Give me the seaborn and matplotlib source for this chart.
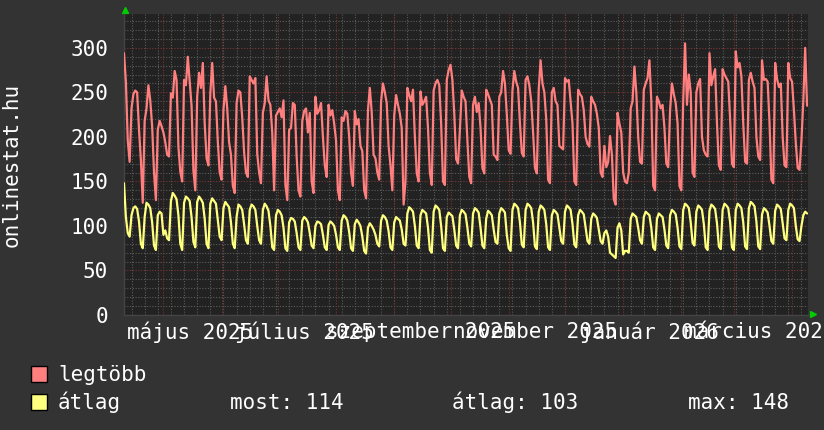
import pandas as pd
import matplotlib
matplotlib.use('Agg')
import matplotlib.pyplot as plt
import matplotlib.dates as mdates
from matplotlib.patches import Rectangle
import seaborn as sns

# ===============================
# Data (daily values)
# ===============================
start_date = '2025-04-10'

# legtöbb (daily maximum), one row per week (Mon..Sun), first row starts Thursday
legtobb = [
    294, 262, 196, 172,
    232, 248, 252, 250, 208, 174, 126,
    218, 232, 258, 241, 212, 160, 129,
    208, 218, 212, 205, 194, 180, 178,
    249, 244, 274, 264, 189, 161, 150,
    264, 258, 290, 262, 235, 162, 140,
    245, 272, 255, 283, 215, 176, 168,
    249, 283, 244, 240, 194, 160, 152,
    230, 257, 232, 194, 180, 145, 137,
    238, 252, 250, 222, 183, 160, 155,
    268, 264, 260, 266, 181, 160, 148,
    227, 238, 268, 241, 236, 205, 140,
    224, 228, 232, 222, 241, 146, 129,
    208, 210, 238, 236, 178, 140, 133,
    218, 229, 232, 205, 227, 150, 137,
    245, 226, 230, 238, 200, 168, 155,
    236, 224, 230, 215, 196, 140, 129,
    222, 218, 229, 226, 200, 160, 145,
    229, 214, 220, 190, 184, 140, 131,
    230, 255, 228, 180, 176, 160, 152,
    240, 260, 250, 238, 190, 168, 140,
    224, 247, 236, 226, 210, 124, 150,
    255, 247, 240, 253, 200, 159, 150,
    251, 236, 240, 245, 210, 160, 146,
    252, 260, 264, 258, 215, 150, 146,
    264, 275, 281, 264, 226, 175, 170,
    208, 252, 245, 240, 196, 155, 148,
    236, 245, 228, 238, 210, 165, 159,
    253, 248, 242, 236, 180, 178, 174,
    245, 250, 274, 260, 225, 185, 181,
    252, 274, 262, 255, 215, 182, 178,
    264, 268, 258, 240, 205, 165, 159,
    253, 286, 260, 250, 220, 152, 148,
    250, 255, 240, 236, 190, 188, 186,
    266, 262, 264, 240, 215, 150, 146,
    253, 248, 245, 230, 200, 192, 189,
    245, 240, 236, 226, 210, 160, 155,
    190, 166, 172, 201, 180, 130, 124,
    227, 215, 205, 160, 150, 148, 160,
    232, 240, 279, 250, 200, 172, 170,
    253, 260, 266, 286, 240, 145, 140,
    245, 240, 232, 236, 210, 170, 166,
    230, 260, 248, 238, 215, 145, 140,
    240, 305, 236, 270, 250, 160, 155,
    250, 260, 265, 200, 185, 180, 178,
    294, 258, 268, 276, 215, 168, 163,
    276, 270, 266, 262, 220, 170, 166,
    296, 278, 283, 268, 215, 172, 170,
    264, 272, 262, 255, 200, 178, 174,
    286, 264, 265, 262, 215, 152, 148,
    283, 265, 256, 260, 200, 168, 166,
    283, 266, 262, 230, 193, 165, 163,
    196, 240, 300, 235,
]

# átlag (daily average)
atlag = [
    148, 110, 92, 88,
    112, 120, 122, 119, 105, 80, 75,
    110, 126, 124, 120, 104, 78, 73,
    112, 116, 114, 90, 95, 86, 84,
    128, 137, 134, 130, 112, 80, 73,
    126, 133, 131, 128, 110, 82, 76,
    127, 133, 130, 126, 108, 80, 75,
    125, 131, 128, 125, 106, 88, 84,
    120, 127, 124, 121, 104, 80, 75,
    110, 124, 122, 118, 102, 84, 80,
    118, 124, 122, 118, 100, 84, 80,
    118, 125, 122, 117, 100, 76, 73,
    112, 118, 116, 112, 98, 75, 72,
    104, 109, 108, 105, 92, 76, 73,
    106, 110, 108, 104, 92, 78, 75,
    100, 105, 104, 102, 90, 76, 73,
    101, 105, 103, 100, 90, 76, 73,
    106, 112, 110, 106, 93, 75, 72,
    102, 107, 104, 100, 88, 72, 69,
    98, 103, 100, 96, 90, 80, 77,
    106, 112, 110, 106, 94, 76, 73,
    104, 110, 108, 106, 96, 80, 78,
    114, 121, 119, 116, 100, 78, 75,
    112, 118, 116, 114, 98, 73, 70,
    116, 123, 121, 118, 100, 75, 72,
    110, 115, 113, 111, 96, 78, 75,
    112, 118, 116, 113, 98, 80, 77,
    114, 120, 118, 115, 98, 78, 75,
    108, 117, 115, 112, 96, 82, 80,
    114, 120, 118, 115, 90, 75, 72,
    118, 125, 123, 120, 104, 79, 76,
    118, 125, 123, 120, 104, 77, 74,
    116, 123, 121, 118, 102, 76, 73,
    112, 118, 116, 113, 98, 83, 80,
    116, 123, 121, 118, 102, 79, 76,
    112, 118, 116, 113, 98, 83, 80,
    108, 114, 112, 109, 96, 83, 80,
    92, 95, 88, 70, 68, 66, 64,
    98, 103, 95, 68, 72, 72, 70,
    108, 114, 112, 110, 98, 84, 80,
    110, 116, 114, 112, 98, 76, 73,
    108, 114, 112, 110, 96, 78, 75,
    112, 118, 116, 113, 98, 77, 74,
    118, 125, 123, 120, 104, 81, 78,
    116, 123, 121, 118, 102, 76, 73,
    117, 124, 122, 119, 103, 77, 74,
    118, 125, 123, 120, 104, 76, 73,
    118, 125, 123, 120, 104, 77, 74,
    120, 127, 125, 122, 105, 77, 74,
    113, 120, 118, 115, 100, 83, 80,
    117, 124, 122, 119, 103, 86, 84,
    118, 125, 123, 120, 100, 85, 83,
    100, 112, 116, 114,
]

honapok = ['január', 'február', 'március', 'április', 'május', 'június',
           'július', 'augusztus', 'szeptember', 'október', 'november', 'december']
series_names = ['legtöbb', 'átlag']
series_colors = ['#ff7f7f', '#ffff7f']
stat_labels = ['most: 114', 'átlag: 103', 'max: 148']
y_label = 'onlinestat.hu'

df = pd.DataFrame({
    'datum': pd.date_range(start_date, periods=len(legtobb), freq='D'),
    'legtobb': legtobb,
    'atlag': atlag,
})

# ===============================
# Style
# ===============================
BG = '#333333'
PLOT_BG = '#222222'
sns.set_theme(style='dark')
plt.rcParams['font.family'] = ['DejaVu Sans Mono']
plt.rcParams['font.size'] = 15

fig = plt.figure(figsize=(8.24, 4.30), dpi=100, facecolor=BG)
ax = fig.add_axes([124 / 824, 1 - 315 / 430, 684 / 824, 301 / 430])
ax.set_facecolor(PLOT_BG)

x0 = pd.Timestamp('2025-04-10 00:00')
x1 = pd.Timestamp('2026-04-09 12:00')

# grid: weekly / 10-unit minor (gray), monthly / 50-unit major (red)
for d in pd.date_range('2025-04-14', x1, freq='7D'):
    ax.axvline(d, color='#5c5c5c', lw=0.8, ls=(0, (1, 1.5)), zorder=1)
for v in range(10, 340, 10):
    if v % 50:
        ax.axhline(v, color='#5c5c5c', lw=0.8, ls=(0, (1, 1.5)), zorder=1)
for d in pd.date_range('2025-05-01', x1, freq='MS'):
    ax.axvline(d, color='#7a3434', lw=0.8, ls=(0, (1, 1.5)), zorder=1.5)
for v in range(50, 340, 50):
    ax.axhline(v, color='#7a3434', lw=0.8, ls=(0, (1, 1.5)), zorder=1.5)

sns.lineplot(data=df, x='datum', y='legtobb', color=series_colors[0], lw=1.6, ax=ax, zorder=3)
sns.lineplot(data=df, x='datum', y='atlag', color=series_colors[1], lw=1.6, ax=ax, zorder=3)

ax.set_xlim(x0, x1)
ax.set_ylim(0, 338)
ax.set_xlabel('')
ax.set_ylabel('')
ax.grid(False)

ax.xaxis.set_major_locator(mdates.MonthLocator(bymonth=[1, 3, 5, 7, 9, 11], bymonthday=15))
ax.xaxis.set_major_formatter(plt.FuncFormatter(
    lambda x, pos: '%s %d' % (honapok[mdates.num2date(x).month - 1], mdates.num2date(x).year)))
ax.set_yticks(range(0, 301, 50))
ax.tick_params(axis='x', length=0, pad=4.8, colors='white', labelsize=15)
ax.tick_params(axis='y', length=2, pad=9.5, colors='white', labelsize=15, color='#555555')
for s in ['top', 'right']:
    ax.spines[s].set_visible(False)
for s in ['left', 'bottom']:
    ax.spines[s].set_color('#444444')
    ax.spines[s].set_linewidth(1)

# little green arrows at the ends of the axes
ax.plot([0.0015], [1.012], marker='^', color='#00cc00', ms=4.5, transform=ax.transAxes, clip_on=False)
ax.plot([1.0073], [0.002], marker='>', color='#00cc00', ms=4.5, transform=ax.transAxes, clip_on=False)

fig.text(12 / 824, 1 - 165 / 430, y_label, rotation=90, ha='center', va='center', color='white', fontsize=15)

# legend
rows_y = [381, 409]
for name, col, yb in zip(series_names, series_colors, rows_y):
    fig.patches.append(Rectangle((31.5 / 824, 1 - (yb + 0.5) / 430), 15.5 / 824, 15.5 / 430,
                                 transform=fig.transFigure, facecolor=col, edgecolor='black', lw=1))
    fig.text(58 / 824, 1 - yb / 430, name, va='baseline', ha='left', color='white', fontsize=15)
for txt, xp in zip(stat_labels, [229.5, 452, 688]):
    fig.text(xp / 824, 1 - rows_y[1] / 430, txt, va='baseline', ha='left', color='white', fontsize=15)

fig.savefig('out.png', dpi=100, facecolor=BG)
